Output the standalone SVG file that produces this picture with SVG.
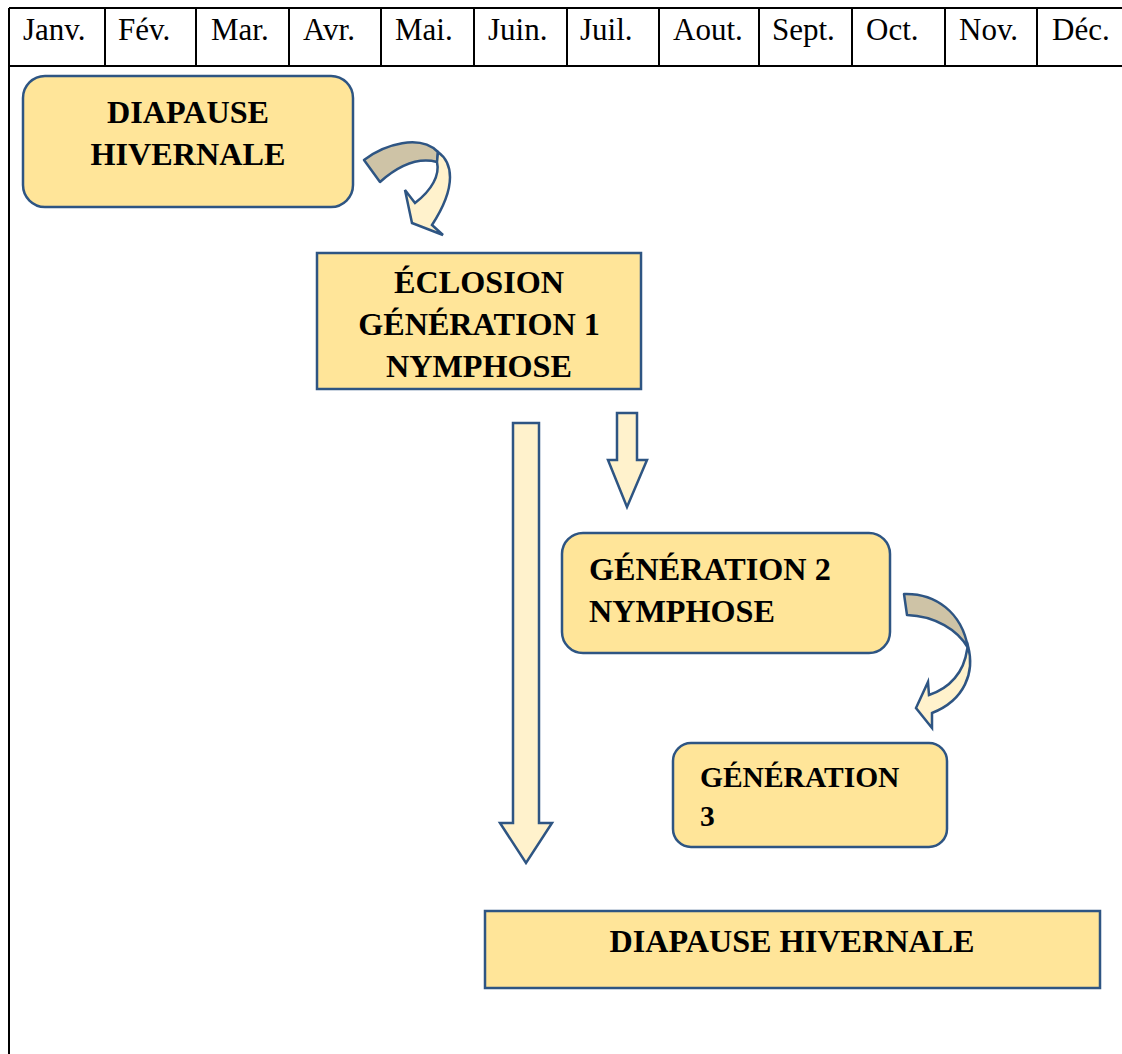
<svg xmlns="http://www.w3.org/2000/svg" width="1122" height="1054" viewBox="0 0 1122 1054">
<style>
.tl{stroke:#000;stroke-width:2;fill:none}
.hd{font-family:"Liberation Serif",serif;font-size:31px;fill:#000}
.bx{fill:#FFE599;stroke:#2E5583;stroke-width:2.5}
.lb{font-family:"Liberation Serif",serif;font-size:32.2px;font-weight:bold;fill:#000}
.sm{font-size:29.5px}
.ar{fill:#FFF2CC;stroke:#2E5583;stroke-width:2.5;stroke-linejoin:miter}
.bk{fill:#CEC3A6;stroke:#2E5583;stroke-width:2.5;stroke-linejoin:round}
</style>
<rect width="1122" height="1054" fill="#fff"/>
<g id="table">
<path class="tl" d="M9,8H1122M9,66H1122M9,8V1054M105,8V66M196,8V66M289,8V66M381,8V66M474,8V66M567,8V66M659,8V66M759,8V66M852,8V66M945,8V66M1037,8V66"/>
<text class="hd" x="23" y="40">Janv.</text>
<text class="hd" x="118" y="40">Fév.</text>
<text class="hd" x="211" y="40">Mar.</text>
<text class="hd" x="303" y="40">Avr.</text>
<text class="hd" x="395" y="40">Mai.</text>
<text class="hd" x="488" y="40">Juin.</text>
<text class="hd" x="580" y="40">Juil.</text>
<text class="hd" x="673" y="40">Aout.</text>
<text class="hd" x="772" y="40">Sept.</text>
<text class="hd" x="866" y="40">Oct.</text>
<text class="hd" x="959" y="40">Nov.</text>
<text class="hd" x="1052" y="40">Déc.</text>
</g>
<g id="n1">
<rect class="bx" x="23" y="76" width="330" height="131" rx="22"/>
<text class="lb" x="188" y="123" text-anchor="middle">DIAPAUSE</text>
<text class="lb" x="188" y="165" text-anchor="middle">HIVERNALE</text>
</g>
<g id="n2">
<rect class="bx" x="317" y="253" width="324" height="136"/>
<text class="lb" x="479" y="293" text-anchor="middle">ÉCLOSION</text>
<text class="lb" x="479" y="335" text-anchor="middle">GÉNÉRATION 1</text>
<text class="lb" x="479" y="377" text-anchor="middle">NYMPHOSE</text>
</g>
<g id="n3">
<rect class="bx" x="562" y="533" width="328" height="120" rx="21"/>
<text class="lb" x="589" y="580">GÉNÉRATION 2</text>
<text class="lb" x="589" y="622">NYMPHOSE</text>
</g>
<g id="n4">
<rect class="bx" x="673" y="743" width="274" height="104" rx="18"/>
<text class="lb sm" x="700" y="787">GÉNÉRATION</text>
<text class="lb sm" x="700" y="826">3</text>
</g>
<g id="n5">
<rect class="bx" x="485" y="911" width="615" height="77"/>
<text class="lb" x="792" y="952" text-anchor="middle">DIAPAUSE HIVERNALE</text>
</g>
<g id="connectors">
<path class="bk" d="M364,160 C385,144 420,134 438,152 L437,162 C418,157 398,166 380,182 Z"/>
<path class="ar" d="M438,152 C452,162 458,185 432,225 L443,235 L412,223 L405,190 L415,203 C432,190 440,175 437,162 Z"/>
<path class="ar" d="M513,423 H539 V823 H552 L526,863 L500,823 H513 Z"/>
<path class="ar" d="M617,413 H637 V460 H647 L627,507 L608,460 H617 Z"/>
<path class="bk" d="M904,594 C935,593 962,612 968,648 C958,630 935,616 907,615 Z"/>
<path class="ar" d="M968,646 C975,672 965,700 932,713 L932,728 L916,708 L928,682 L929,695 C950,688 964,672 967,650 Z"/>
</g>
</svg>
